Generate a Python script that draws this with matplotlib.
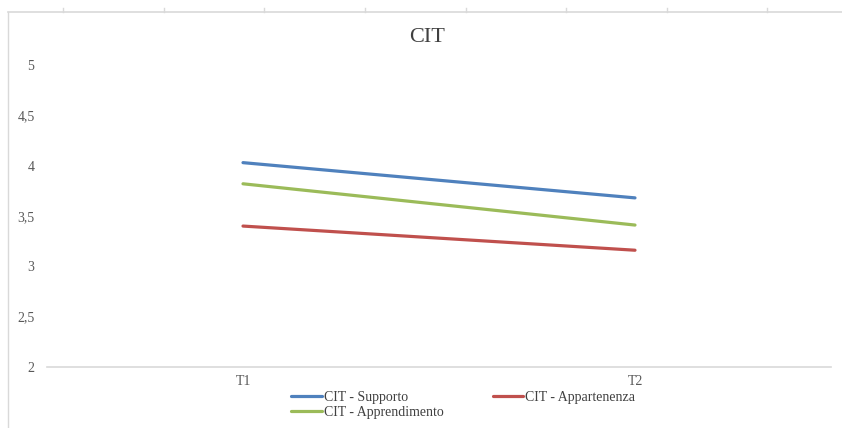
import matplotlib
matplotlib.use("Agg")
import matplotlib.pyplot as plt
from matplotlib.lines import Line2D

plt.rcParams['font.family'] = ['Liberation Serif', 'DejaVu Serif']

categories = ["T1", "T2"]
supporto = [4.03, 3.68]
appartenenza = [3.40, 3.16]
apprendimento = [3.82, 3.41]
yticks = [2, 2.5, 3, 3.5, 4, 4.5, 5]
ytick_labels = ["2", "2,5", "3", "3,5", "4", "4,5", "5"]

W, H = 842, 428
fig = plt.figure(figsize=(W / 100, H / 100), dpi=100)
ax = fig.add_axes([47 / W, 1 - 367 / H, (831 - 47) / W, (367 - 65) / H])

x = range(len(categories))
l1, = ax.plot(x, supporto, color="#4F81BD", lw=2.3, solid_capstyle="round", label="CIT - Supporto")
l2, = ax.plot(x, appartenenza, color="#C0504D", lw=2.3, solid_capstyle="round", label="CIT - Appartenenza")
l3, = ax.plot(x, apprendimento, color="#9BBB59", lw=2.3, solid_capstyle="round", label="CIT - Apprendimento")

ax.set_xlim(-0.5, 1.5)
ax.set_ylim(2, 5)
ax.set_xticks(list(x))
ax.set_xticklabels(categories)
ax.set_yticks(yticks)
ax.set_yticklabels(ytick_labels)
ax.tick_params(length=0, labelsize=10, colors="#595959")
ax.tick_params(axis="y", pad=9)
ax.tick_params(axis="x", pad=6)
for s in ["top", "right", "left"]:
    ax.spines[s].set_visible(False)
ax.spines["bottom"].set_color("#D9D9D9")
ax.spines["bottom"].set_linewidth(1.2)
ax.patch.set_alpha(0)

fig.text(427 / W, 1 - 37 / H, "CIT", fontsize=16, color="#404040",
         ha="center", va="center")

# legend: row order Supporto, Appartenenza / Apprendimento
fig.legend([l1, l3, l2], [l1.get_label(), l3.get_label(), l2.get_label()],
           ncol=2, loc="upper left", bbox_to_anchor=(291 / W, 1 - 391 / H),
           frameon=False, fontsize=10, handlelength=2.2, handletextpad=0.15,
           columnspacing=3.55, labelspacing=0.15, borderpad=0, borderaxespad=0,
           labelcolor="#404040")

# spreadsheet frame around the chart
fig.add_artist(Line2D([8 / W, 8 / W], [0, 1 - 12 / H], color="#D9D9D9", lw=1))
fig.add_artist(Line2D([8 / W, 1], [1 - 12 / H, 1 - 12 / H], color="#D9D9D9", lw=1.2))
for px in [63, 164, 264, 365, 466, 566, 667, 767]:
    fig.add_artist(Line2D([px / W, px / W], [1 - 8 / H, 1 - 12 / H], color="#D9D9D9", lw=1))

fig.savefig("out.png", dpi=100)
